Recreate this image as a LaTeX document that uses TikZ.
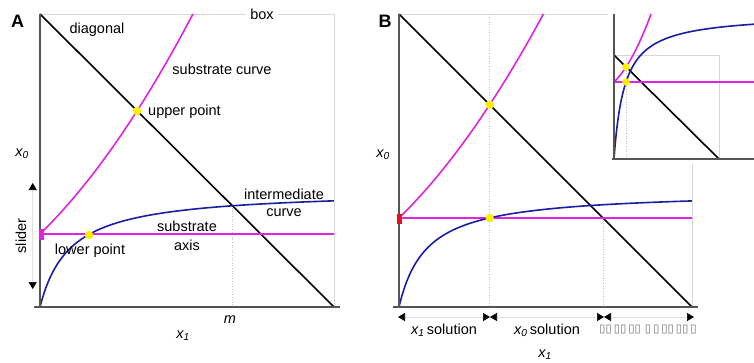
\documentclass[tikz,border=0pt]{standalone}
\usepackage{fontspec}
\setmainfont{Liberation Sans}
\newfontfamily\symfont{DejaVu Sans}
\usetikzlibrary{arrows.meta}
\definecolor{mag}{RGB}{225,35,225}
\definecolor{blu}{RGB}{25,30,165}
\definecolor{yel}{RGB}{255,240,0}
\definecolor{axisgray}{RGB}{85,85,85}
\definecolor{boxgray}{RGB}{215,215,215}
\definecolor{dotgray}{RGB}{195,195,195}
\definecolor{slred}{RGB}{240,10,30}
\begin{document}
\begin{tikzpicture}[x=1pt,y=-1pt,
  lbl/.style={font=\fontsize{14.5}{16}\selectfont, inner sep=0pt},
  panel/.style={font=\fontsize{18}{20}\selectfont\bfseries, inner sep=0pt},
  axisline/.style={draw=axisgray, line width=1.8pt},
  boxline/.style={draw=boxgray, line width=0.7pt},
  dotline/.style={draw=dotgray, line width=0.6pt, dotted},
  diag/.style={draw=black, line width=1.6pt},
  magcurve/.style={draw=mag, line width=1.6pt},
  blucurve/.style={draw=blu, line width=1.6pt},
  ydot/.style={circle, fill=yel, minimum size=8.5pt, inner sep=0pt},
  dblarr/.style={draw=black!12, line width=0.6pt,
     {Triangle[length=7pt,width=8pt,color=black]}-{Triangle[length=7pt,width=8pt,color=black]}}
]
\useasboundingbox (0,0) rectangle (754,362);

%%%%%%%%%%%%%%%% Panel A
\coordinate (A0) at (40,307);
\coordinate (Atl) at (40,14);
\coordinate (Abr) at (334,307);
\coordinate (Atr) at (334,14);
% box
\draw[boxline] (Atl) -- (Atr) -- (Abr);
% m dotted
\coordinate (Am) at (232,205.5);
\coordinate (Amb) at (232,307);
\draw[dotline] (Am) -- (Amb);
% diagonal
\draw[diag] (Atl) -- (Abr);
% substrate axis
\coordinate (Asa) at (40,234);
\coordinate (Asb) at (334,234);
\draw[magcurve] (Asa) -- (Asb);
% substrate curve
\draw[magcurve] plot[domain=0:153,samples=80,variable=\u] ({40+\u},{234-0.974*\u-0.00303*\u*\u});
% intermediate curve
\draw[blucurve] plot[domain=0:17.146,samples=120,variable=\t] ({40+\t*\t},{307-117*(\t*\t/(30+\t*\t))});
% axes
\draw[axisline] (40,14) -- (40,307);
\draw[axisline] (34,307) -- (340,307);
% slider
\fill[mag] (38.5,229) rectangle (44,240);
\coordinate (Asl1) at (32.7,289);
\coordinate (Asl2) at (32.7,183);
\draw[dblarr] (Asl1) -- (Asl2);
% points
\node[ydot] (Aup) at (137,111) {};
\node[ydot] (Alow) at (89,235) {};
% labels
\node[panel] (labA) at (17.5,21.5) {A};
\node[lbl, fill=white, inner xsep=4pt, inner ysep=2pt] (Abox) at (262,14) {box};
\node[lbl] (Adiag) at (97,30) {diagonal};
\node[lbl] (Asubc) at (222,69) {substrate curve};
\node[lbl, anchor=west] (Aupl) at (148,112) {upper point};
\node[lbl] (Ax0) at (22,154) {\textit{x\textsubscript{0}}};
\node[lbl] (Aint1) at (284,194) {intermediate};
\node[lbl] (Aint2) at (284,213) {curve};
\node[lbl] (Asub1) at (187,226) {substrate};
\node[lbl] (Asub2) at (187,245) {axis};
\node[lbl] (Alowl) at (90,251) {lower point};
\node[lbl] (Aml) at (230,320) {\textit{m}};
\node[lbl] (Ax1) at (183,336) {\textit{x\textsubscript{1}}};
\node[lbl, rotate=90] (Aslider) at (21,236) {slider};

%%%%%%%%%%%%%%%% Panel B
\coordinate (Btl) at (399,14);
\coordinate (Btr) at (692,14);
\coordinate (Bbr) at (692,307);
\draw[boxline] (Btl) -- (Btr) -- (Bbr);
% dotted lines
\coordinate (Bd1t) at (489.7,14);
\coordinate (Bd1b) at (489.7,307);
\draw[dotline] (Bd1t) -- (Bd1b);
\coordinate (Bd2t) at (603,218);
\coordinate (Bd2b) at (603,307);
\draw[dotline] (Bd2t) -- (Bd2b);
% diagonal
\draw[diag] (Btl) -- (Bbr);
% substrate axis
\coordinate (Bsa) at (399,218);
\coordinate (Bsb) at (692,218);
\draw[magcurve] (Bsa) -- (Bsb);
\draw[magcurve] plot[domain=0:144.5,samples=80,variable=\u] ({399+\u},{218-0.974*\u-0.00303*\u*\u});
\draw[blucurve] plot[domain=0:17.117,samples=120,variable=\t] ({399+\t*\t},{307-116*(\t*\t/(27.4+\t*\t))});
% axes
\draw[axisline] (399,14) -- (399,307);
\draw[axisline] (393,307) -- (698,307);
% slider
\fill[slred] (396.5,214) rectangle (402,224);
% points
\node[ydot] (Bup) at (489.7,104.7) {};
\node[ydot] (Blow) at (489.7,218) {};
% bottom arrows
\coordinate (Ba1) at (398,317);
\coordinate (Ba2) at (490,317);
\coordinate (Ba3) at (604,317);
\coordinate (Ba4) at (694,317);
\draw[dblarr] (Ba2) -- (Ba1);
\draw[dblarr] (Ba2) -- (Ba3);
\draw[dblarr] (Ba3) -- (Ba4);
% labels
\node[panel] (labB) at (385,21.5) {B};
\node[lbl] (Bx0) at (383,155) {\textit{x\textsubscript{0}}};
\node[lbl] (Bs1) at (444,330) {\textit{x\textsubscript{1}}\,solution};
\node[lbl] (Bs0) at (547,330) {\textit{x\textsubscript{0}}\,solution};
\node[inner sep=0pt, text=black!55, font=\symfont\fontsize{11.5}{12}\selectfont] (Bs2) at (648,330) {▯▯\,▯▯\,▯▯\,\,▯\,▯\,▯▯\,▯▯\,▯};
\node[lbl] (Bx1) at (545,355) {\textit{x\textsubscript{1}}};

%%%%%%%%%%%%%%%% Inset
\fill[white] (608,5) rectangle (754,164);
\coordinate (Itl) at (614,55);
\coordinate (Ibr) at (719,159);
\draw[boxline] (Itl) rectangle (Ibr);
\coordinate (Idt) at (626,55);
\coordinate (Idb) at (626,159);
\draw[dotline] (Idt) -- (Idb);
\draw[diag] (Itl) -- (Ibr);
\coordinate (Isa) at (614,82);
\coordinate (Isb) at (754,82);
\draw[magcurve] (Isa) -- (Isb);
\draw[magcurve] plot[domain=0:37,samples=60,variable=\u] ({614+\u},{82-0.968*\u-0.0235*\u*\u});
\draw[blucurve] plot[domain=0:11.83,samples=120,variable=\t] ({614+\t*\t},{159-145*(\t*\t/(10.6+\t*\t))});
\draw[axisline, line width=1.5pt] (614,14) -- (614,159);
\draw[axisline, line width=1.5pt] (612,159) -- (754,159);
\node[ydot, minimum size=7.5pt] (Iup) at (626,67) {};
\node[ydot, minimum size=7.5pt] (Ilow) at (626,82) {};
\end{tikzpicture}
\end{document}
